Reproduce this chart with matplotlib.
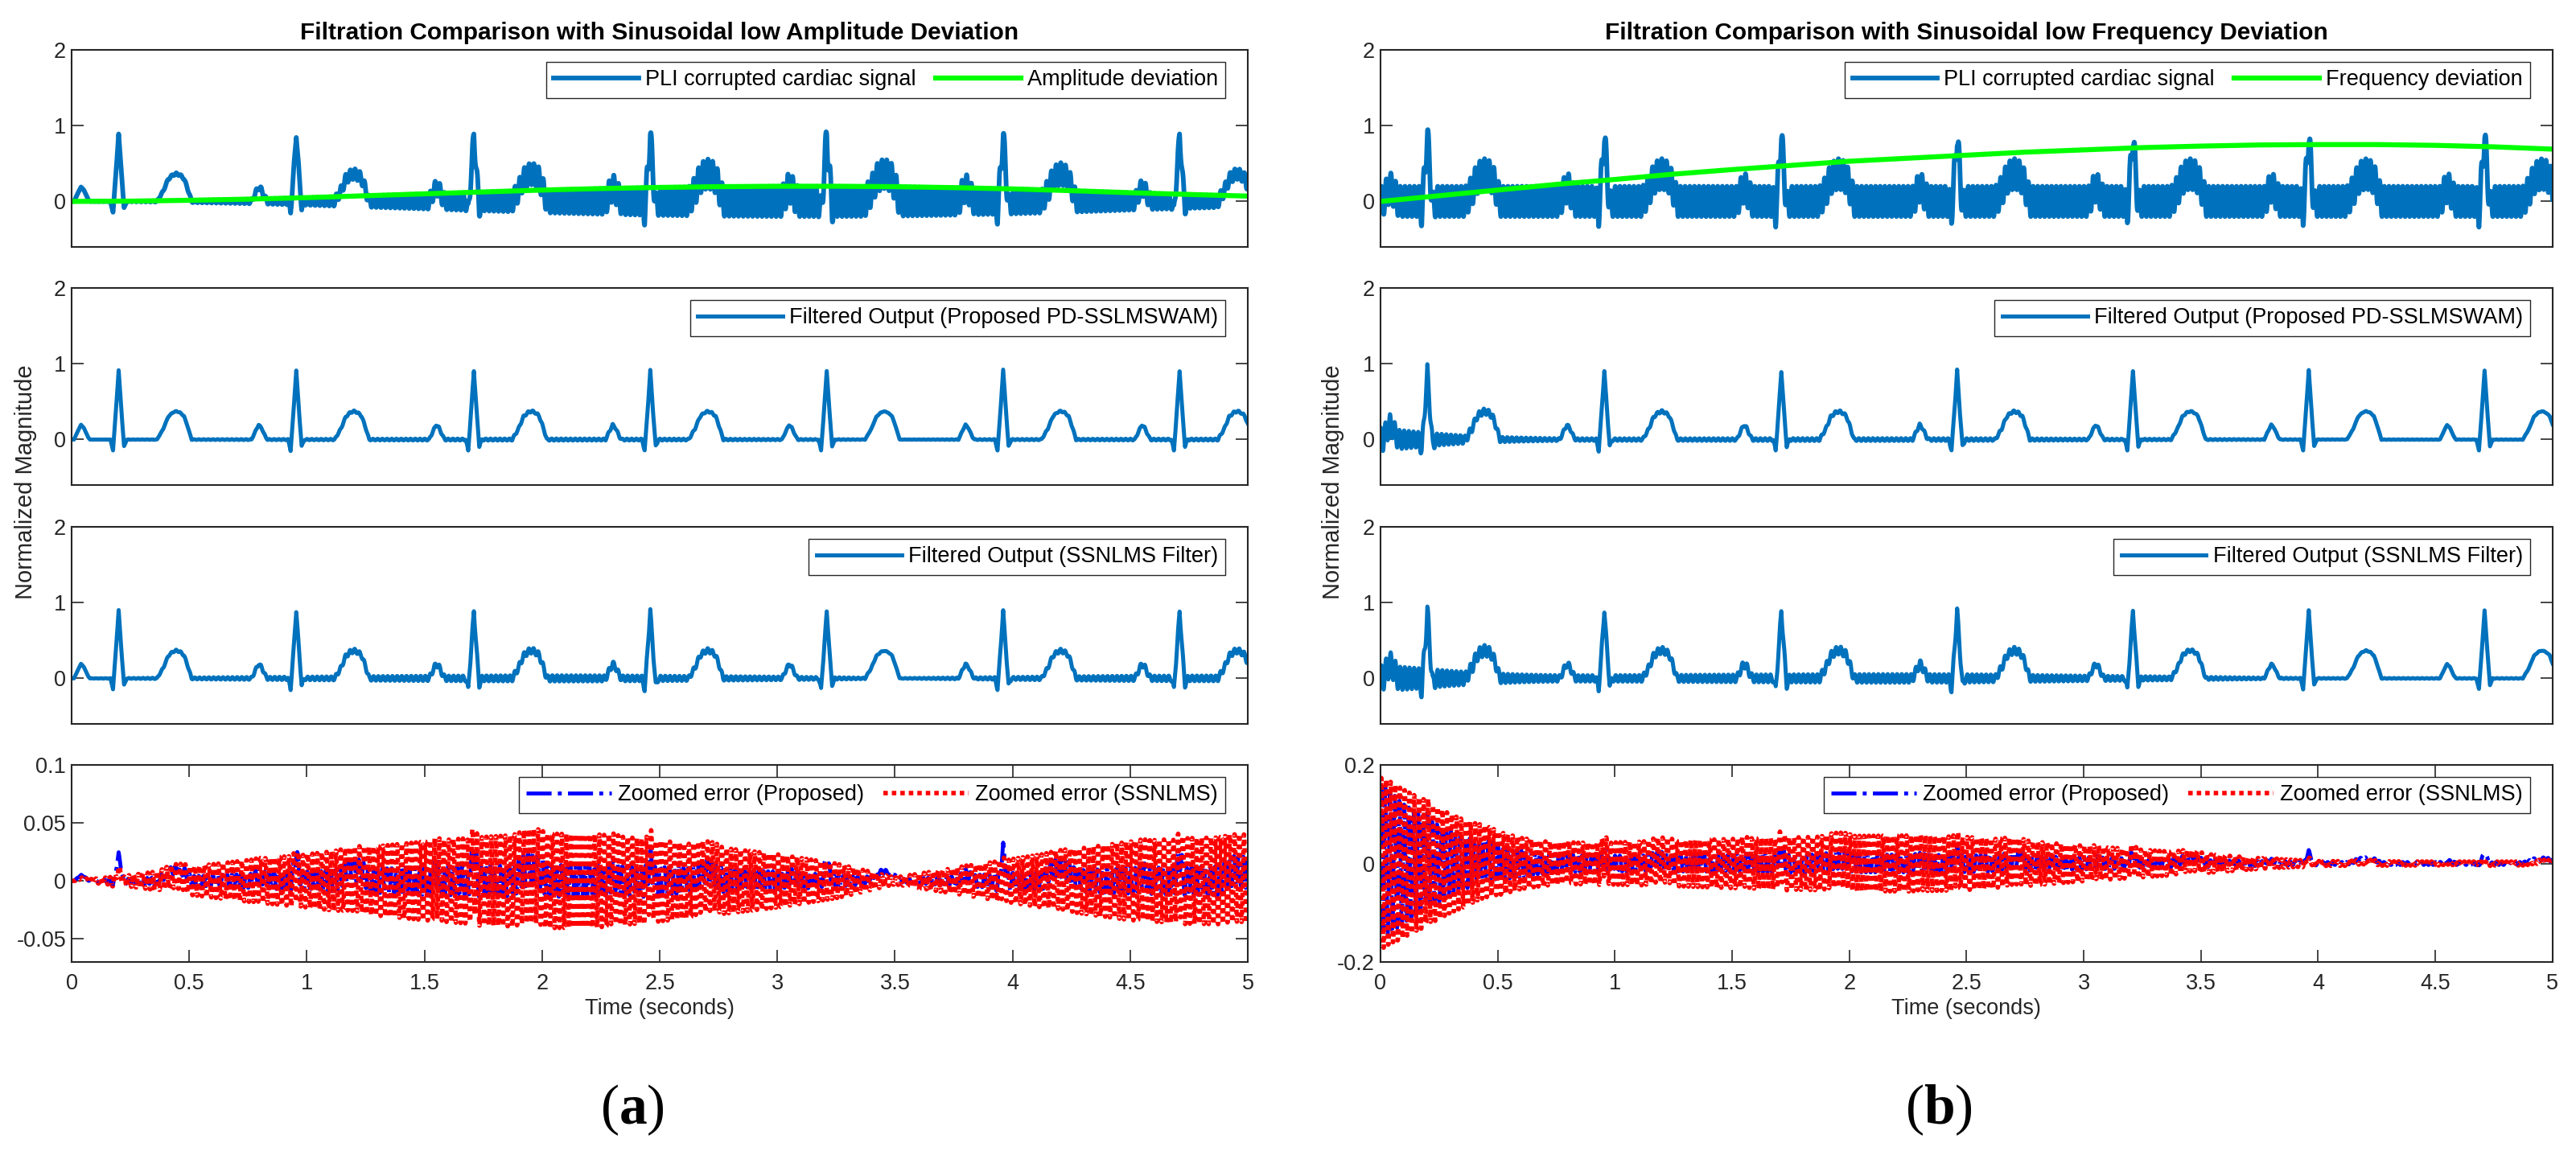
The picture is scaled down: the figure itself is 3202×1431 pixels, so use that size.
import numpy as np
import matplotlib.pyplot as plt

plt.rcParams['font.family'] = ['Liberation Sans', 'DejaVu Sans']
plt.rcParams['mathtext.fontset'] = 'custom'
plt.rcParams['mathtext.rm'] = 'Liberation Serif'
plt.rcParams['mathtext.bf'] = 'Liberation Serif:bold'

# ---- values ----
r_peak_times = [0.20, 0.955, 1.71, 2.46, 3.21, 3.96, 4.71]
# one cardiac beat: offset from the R peak (s) and amplitude
beat_offsets = [-0.19, -0.175, -0.16, -0.148, -0.13, -0.122, -0.035, -0.024, -0.012, 0.0,
                0.012, 0.023, 0.035, 0.163, 0.19, 0.21, 0.228, 0.245, 0.262, 0.278, 0.295, 0.31]
beat_values = [0.0, 0.10, 0.19, 0.15, 0.03, 0.0, 0.0, -0.14, 0.35, 0.89,
               0.35, -0.085, 0.0, 0.0, 0.14, 0.29, 0.345, 0.365, 0.345, 0.30, 0.15, 0.0]

dev_times = [0, 0.25, 0.5, 0.75, 1.0, 1.25, 1.5, 1.75, 2.0, 2.25, 2.5,
             2.75, 3.0, 3.25, 3.5, 3.75, 4.0, 4.25, 4.5, 4.75, 5.0]
amp_deviation = [0.0, 0.004, 0.015, 0.03, 0.05, 0.075, 0.10, 0.125, 0.15, 0.17, 0.185,
                 0.195, 0.2, 0.2, 0.195, 0.182, 0.165, 0.142, 0.115, 0.092, 0.07]
freq_deviation = [0.0, 0.075, 0.15, 0.225, 0.29, 0.36, 0.42, 0.475, 0.53, 0.57, 0.61,
                  0.65, 0.68, 0.71, 0.73, 0.745, 0.75, 0.75, 0.74, 0.72, 0.69]
pli_amp_b = 0.2

# residual PLI envelope in the error traces
err_times_a = dev_times
red_env_a = [0.0, 0.005, 0.012, 0.018, 0.023, 0.029, 0.034, 0.038, 0.041, 0.040, 0.035,
             0.029, 0.023, 0.015, 0.003, 0.011, 0.019, 0.027, 0.034, 0.037, 0.038]
blue_env_a = [0.0, 0.002, 0.004, 0.006, 0.008, 0.010, 0.012, 0.013, 0.014, 0.013, 0.012,
              0.010, 0.008, 0.005, 0.001, 0.004, 0.007, 0.009, 0.011, 0.012, 0.013]
err_times_b = [0, 0.1, 0.2, 0.3, 0.4, 0.5, 0.6, 0.7, 0.8, 1.0, 1.25, 1.5, 1.75, 2.0,
               2.25, 2.5, 2.75, 3.0, 3.25, 3.5, 3.75, 4.0, 4.5, 5.0]
red_env_b = [0.175, 0.15, 0.125, 0.10, 0.08, 0.065, 0.052, 0.045, 0.042, 0.043, 0.046, 0.05,
             0.053, 0.056, 0.057, 0.054, 0.046, 0.036, 0.028, 0.02, 0.011, 0.005, 0.004, 0.004]
blue_env_b = [0.16, 0.12, 0.09, 0.065, 0.045, 0.035, 0.026, 0.02, 0.017, 0.016, 0.016, 0.017,
              0.018, 0.018, 0.018, 0.017, 0.015, 0.012, 0.01, 0.007, 0.005, 0.003, 0.003, 0.003]
# cardiac leakage into the error, one factor per beat
blue_leak_a = [0.026, 0.026, 0.028, 0.02, 0.022, 0.03, 0.025]
red_leak_a = [0.011, 0.005, 0.012, 0.011, 0.0, 0.003, 0.007]
blue_leak_b = [0.02, 0.02, 0.02, 0.02, 0.025, 0.027, 0.026]
red_leak_b = [0.01, 0.02, 0.02, 0.013, 0.015, 0.008, 0.01]

titles = ['Filtration Comparison with Sinusoidal low Amplitude Deviation',
          'Filtration Comparison with Sinusoidal low Frequency Deviation']
dev_labels = ['Amplitude deviation', 'Frequency deviation']
x_ticks = [0, 0.5, 1, 1.5, 2, 2.5, 3, 3.5, 4, 4.5, 5]
x_tick_labels = ['0', '0.5', '1', '1.5', '2', '2.5', '3', '3.5', '4', '4.5', '5']
err_yticks = [[-0.05, 0, 0.05, 0.1], [-0.2, 0, 0.2]]
err_yticklabels = [['-0.05', '0', '0.05', '0.1'], ['-0.2', '0', '0.2']]
err_ylims = [(-0.07, 0.1), (-0.2, 0.2)]

# ---- signals ----
fs = 2000
t = np.arange(0, 5 * fs + 1) / fs


def beats(leak):
    out = np.zeros_like(t)
    for tr, k in zip(r_peak_times, leak):
        out += k * np.interp(t - tr, beat_offsets, beat_values, left=0, right=0)
    return out


ecg = beats([1] * 7)
carrier = np.sin(2 * np.pi * 50 * t)
amp_dev_t = np.interp(t, dev_times, amp_deviation)
freq_dev_t = np.interp(t, dev_times, freq_deviation)
noisy = [ecg + amp_dev_t * carrier,
         ecg + pli_amp_b * np.sin(2 * np.pi * np.cumsum(50 + freq_dev_t) / fs)]
dev_curves = [amp_deviation, freq_deviation]

blue_err = [np.interp(t, err_times_a, blue_env_a) * np.sin(2 * np.pi * 50 * t + 1.3) + beats(blue_leak_a),
            np.interp(t, err_times_b, blue_env_b) * np.sin(2 * np.pi * 50 * t + 1.3) + beats(blue_leak_b)]
red_err = [np.interp(t, err_times_a, red_env_a) * np.sin(2 * np.pi * 50 * t + 0.4) + beats(red_leak_a),
           np.interp(t, err_times_b, red_env_b) * np.sin(2 * np.pi * 50 * t + 0.4) + beats(red_leak_b)]

# ---- figure ----
ecg_blue = '#0072BD'
dark = '#262626'
fig = plt.figure(figsize=(32.02, 14.31), dpi=100)
col_left = [0.0278, 0.5359]
col_width = [0.4566, 0.4550]
row_bottom = [0.7855, 0.5786, 0.3711, 0.1642]
row_height = 0.1712
leg_kw = dict(loc='upper right', bbox_to_anchor=(0.981, 0.94), borderaxespad=0, fontsize=19.5,
              fancybox=False, framealpha=1, edgecolor=dark, handlelength=3.9,
              handletextpad=0.3, columnspacing=0.9, borderpad=0.35)


def style(ax):
    ax.tick_params(direction='in', length=10.8, width=1.2, labelsize=19.5, colors=dark,
                   top=True, right=True, pad=5)
    for s in ax.spines.values():
        s.set_linewidth(1.5)
        s.set_color(dark)
    ax.set_xlim(0, 5)


for c in range(2):
    axs = [fig.add_axes([col_left[c], b, col_width[c], row_height]) for b in row_bottom]
    for ax in axs:
        style(ax)
    for ax in axs[:3]:
        ax.set_ylim(-0.6, 2)
        ax.set_yticks([0, 1, 2])
        ax.set_yticklabels(['0', '1', '2'])
        ax.set_xticks([])

    ax = axs[0]
    ax.plot(t, noisy[c], color=ecg_blue, lw=4.2, label='PLI corrupted cardiac signal')
    ax.plot(dev_times, dev_curves[c], color='#00FF00', lw=4.5, label=dev_labels[c])
    ax.set_title(titles[c], fontsize=21.5, fontweight='bold', pad=9)
    ax.legend(ncol=2, **leg_kw)

    ax = axs[1]
    ax.plot(t, ecg + blue_err[c], color=ecg_blue, lw=3.6,
            label='Filtered Output (Proposed PD-SSLMSWAM)')
    ax.legend(**leg_kw)

    ax = axs[2]
    ax.plot(t, ecg + red_err[c], color=ecg_blue, lw=3.6, label='Filtered Output (SSNLMS Filter)')
    ax.legend(**leg_kw)

    ax = axs[3]
    ax.plot(t, blue_err[c], color='#0000FF', ls='-.', lw=3.5, label='Zoomed error (Proposed)')
    ax.plot(t, red_err[c], color='#FF0000', ls=(0, (1, 0.9)), lw=4, label='Zoomed error (SSNLMS)')
    ax.set_ylim(*err_ylims[c])
    ax.set_yticks(err_yticks[c])
    ax.set_yticklabels(err_yticklabels[c])
    ax.set_xticks(x_ticks)
    ax.set_xticklabels(x_tick_labels)
    ax.tick_params(axis='x', pad=10)
    ax.set_xlabel('Time (seconds)', fontsize=19.5, color=dark, labelpad=4)
    ax.legend(ncol=2, **leg_kw)

fig.text(0.010, 0.581, 'Normalized Magnitude', rotation=90, fontsize=21, color=dark,
         ha='center', va='center')
fig.text(0.5175, 0.581, 'Normalized Magnitude', rotation=90, fontsize=21, color=dark,
         ha='center', va='center')
fig.text(0.2455, 0.0356, r'$\mathrm{(}\mathbf{a}\mathrm{)}$', fontsize=50, ha='center', va='center')
fig.text(0.7527, 0.0356, r'$\mathrm{(}\mathbf{b}\mathrm{)}$', fontsize=50, ha='center', va='center')

fig.savefig('out.png', dpi=100)
